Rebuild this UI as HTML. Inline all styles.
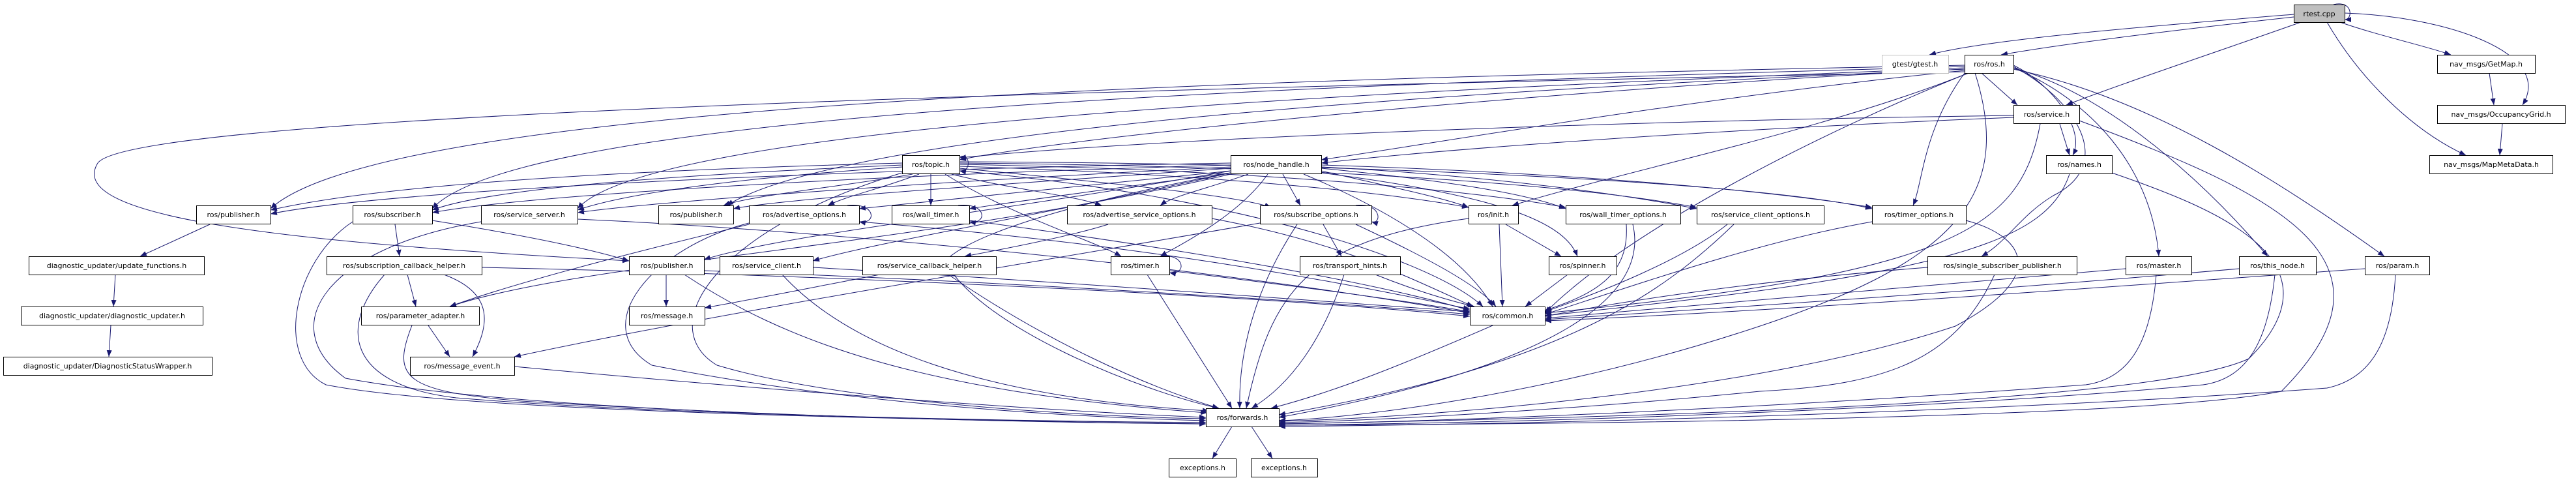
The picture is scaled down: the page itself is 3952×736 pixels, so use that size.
<!DOCTYPE html>
<html><head><meta charset="utf-8"><style>
html,body{margin:0;padding:0;background:#fff;}
svg{display:block;}
text{font-family:"DejaVu Sans","Liberation Sans",sans-serif;font-size:11px;fill:#000;}
</style></head><body>
<svg width="3952" height="736" viewBox="0 0 3952 736" xmlns="http://www.w3.org/2000/svg">
<defs><marker id="a" markerUnits="userSpaceOnUse" markerWidth="11" markerHeight="8" refX="10" refY="4" orient="auto"><path d="M0,0 L10,4 L0,8 z" fill="#191970"/></marker></defs>
<g fill="none" stroke="#191970" stroke-width="1" marker-end="url(#a)">
<path d="M3519 22 C3300 40 3050 60 2960 84"/>
<path d="M3519 26 C3300 50 3150 70 3070 84"/>
<path d="M3530 34 C3400 80 3250 130 3170 161"/>
<path d="M3590 34 C3650 55 3720 70 3760 84"/>
<path d="M3597 20 C3750 25 3920 80 3870 161"/>
<path d="M3570 34 C3620 120 3700 200 3783 238"/>
<path d="M3580 7 C3610 0 3610 30 3597 30"/>
<path d="M3819 112 L3826 161"/>
<path d="M3839 190 L3835 238"/>
<path d="M3040 112 L3095 161"/>
<path d="M3089 100 C3150 130 3200 200 3180 238"/>
<path d="M3089 102 C3180 150 3250 250 3150 300 C3100 330 3080 370 3040 393"/>
<path d="M3089 104 C3200 150 3300 250 3312 393"/>
<path d="M3089 104 C3250 150 3400 300 3479 393"/>
<path d="M3089 106 C3300 150 3500 280 3658 393"/>
<path d="M3030 112 C3090 300 3000 400 2700 500 C2400 600 2100 640 1962 645"/>
<path d="M3020 112 C2800 200 2500 350 2370 480"/>
<path d="M3020 112 C2800 200 2500 260 2320 315"/>
<path d="M3014 106 C2500 130 1700 200 1472 245"/>
<path d="M3014 108 C2600 150 2200 220 2027 245"/>
<path d="M3014 100 C2000 120 600 150 415 320"/>
<path d="M3014 102 C2000 130 800 170 663 320"/>
<path d="M3014 104 C2100 140 1000 190 886 320"/>
<path d="M3014 106 C2200 140 1300 200 1115 315"/>
<path d="M3014 110 C1500 140 200 180 150 250 C100 330 400 370 965 400"/>
<path d="M3014 112 C2950 200 2950 280 2935 315"/>
<path d="M3089 180 C2600 200 2200 230 2027 250"/>
<path d="M3089 177 C2500 185 1800 210 1472 242"/>
<path d="M3160 190 L3175 238"/>
<path d="M3130 190 C3100 350 3000 420 2370 480"/>
<path d="M3190 185 C3500 300 3700 400 3500 600 C3300 640 2500 650 1962 652"/>
<path d="M3175 267 C3140 370 3000 420 2370 484"/>
<path d="M3240 265 C3400 320 3600 400 3450 550 C3300 620 2500 640 1962 650"/>
<path d="M1472 240 C1490 235 1490 265 1472 262"/>
<path d="M1384 250 C1000 260 600 280 415 322"/>
<path d="M1384 253 C1000 270 750 290 663 322"/>
<path d="M1384 256 C1100 275 950 300 886 322"/>
<path d="M1400 267 C1300 285 1150 300 1110 315"/>
<path d="M1410 267 C1350 290 1300 300 1270 315"/>
<path d="M1428 267 L1428 315"/>
<path d="M1460 267 C1550 290 1650 300 1690 315"/>
<path d="M1472 258 C1700 280 1900 300 1950 318"/>
<path d="M1472 255 C1800 265 2100 290 2253 318"/>
<path d="M1472 252 C1900 260 2250 290 2402 318"/>
<path d="M1472 250 C2000 255 2400 280 2603 318"/>
<path d="M1472 248 C2100 250 2700 280 2872 320"/>
<path d="M1450 267 C1550 330 1680 370 1720 393"/>
<path d="M1472 262 C1900 300 2200 400 2275 470"/>
<path d="M1384 265 C1100 350 1000 500 1100 560 C1300 620 1700 640 1850 642"/>
<path d="M1888 250 C1300 260 600 290 415 328"/>
<path d="M1888 253 C1300 270 800 300 663 326"/>
<path d="M1888 256 C1400 280 1000 310 886 326"/>
<path d="M1888 258 C1500 285 1200 305 1125 320"/>
<path d="M1888 262 C1600 290 1400 310 1318 320"/>
<path d="M1888 265 C1700 290 1550 310 1487 320"/>
<path d="M1915 267 C1850 290 1800 300 1780 315"/>
<path d="M1968 267 L1995 315"/>
<path d="M2027 262 C2150 290 2220 305 2253 318"/>
<path d="M2027 258 C2250 280 2350 300 2402 320"/>
<path d="M2027 256 C2300 270 2500 300 2603 320"/>
<path d="M2027 253 C2400 265 2700 290 2872 318"/>
<path d="M1945 267 C1900 330 1820 370 1780 393"/>
<path d="M2027 265 C2300 300 2400 340 2420 393"/>
<path d="M2000 267 C2150 330 2250 400 2290 470"/>
<path d="M1888 265 C1700 300 1500 350 1450 400 C1500 500 1750 600 1870 626"/>
<path d="M1888 262 C1500 330 1200 360 1080 398"/>
<path d="M1888 265 C1600 330 1350 370 1247 400"/>
<path d="M1888 267 C1400 380 900 400 690 470"/>
<path d="M322 344 L215 393"/>
<path d="M177 421 L174 470"/>
<path d="M170 499 L167 547"/>
<path d="M606 344 L613 393"/>
<path d="M663 338 C800 360 900 380 965 400"/>
<path d="M541 340 C450 400 420 550 500 590 C700 630 1400 645 1850 648"/>
<path d="M738 340 C500 380 420 500 530 580 C800 630 1400 645 1850 650"/>
<path d="M886 336 C1200 350 1800 400 2255 480"/>
<path d="M625 421 L638 470"/>
<path d="M681 421 C760 450 750 500 725 547"/>
<path d="M590 421 C520 500 530 590 700 610 C1000 635 1500 645 1850 648"/>
<path d="M739 410 C1200 420 1900 450 2255 485"/>
<path d="M657 499 L690 547"/>
<path d="M632 499 C600 580 620 600 800 615 C1200 640 1600 648 1850 650"/>
<path d="M1022 421 L1022 470"/>
<path d="M1050 421 C1200 520 1400 600 1852 633"/>
<path d="M1080 415 C1500 430 2000 460 2255 482"/>
<path d="M1200 421 C1300 530 1500 610 1855 630"/>
<path d="M1247 410 C1600 430 2000 460 2255 478"/>
<path d="M1350 421 C1250 440 1150 460 1081 472"/>
<path d="M1455 421 C1600 520 1750 590 1870 626"/>
<path d="M789 562 C1200 600 1600 630 1850 640"/>
<path d="M2030 344 L2058 393"/>
<path d="M1990 344 C1920 450 1900 550 1902 626"/>
<path d="M2080 344 C2200 400 2270 440 2295 470"/>
<path d="M2080 315 C2120 310 2120 345 2104 340"/>
<path d="M1933 342 C1600 400 1100 480 789 547"/>
<path d="M1700 344 C1650 360 1550 380 1480 393"/>
<path d="M1859 335 C2050 370 2150 420 2260 470"/>
<path d="M1300 315 C1345 310 1345 345 1318 340"/>
<path d="M1318 340 C1700 370 2000 420 2255 474"/>
<path d="M1149 342 C1000 380 900 500 1000 560 C1300 620 1650 640 1850 645"/>
<path d="M1149 344 C1000 380 800 430 690 470"/>
<path d="M1487 338 C1800 380 2100 430 2255 476"/>
<path d="M1470 315 C1515 310 1515 345 1487 340"/>
<path d="M1760 421 L1890 626"/>
<path d="M1780 393 C1820 388 1820 423 1794 418"/>
<path d="M1794 415 C2000 440 2150 460 2255 478"/>
<path d="M2110 421 C2170 445 2220 460 2262 470"/>
<path d="M2062 421 C2030 520 1980 590 1920 626"/>
<path d="M2310 344 L2395 393"/>
<path d="M2300 344 L2305 470"/>
<path d="M2253 335 C2000 370 1950 450 1912 626"/>
<path d="M2405 421 L2340 470"/>
<path d="M2495 344 C2500 420 2450 450 2370 476"/>
<path d="M2505 344 C2530 450 2400 560 1962 640"/>
<path d="M2650 344 C2580 400 2450 450 2370 478"/>
<path d="M2660 344 C2550 450 2400 560 1962 636"/>
<path d="M2872 340 C2700 370 2500 440 2370 482"/>
<path d="M3016 338 C3100 360 3150 420 3000 500 C2700 600 2200 640 1962 646"/>
<path d="M2957 410 C2700 430 2500 460 2370 485"/>
<path d="M3060 421 C3000 550 2900 590 2700 600 C2400 630 2100 645 1962 648"/>
<path d="M3261 412 C2900 440 2600 470 2370 488"/>
<path d="M3308 421 C3300 520 3270 580 3200 590 C2800 620 2300 645 1962 650"/>
<path d="M3435 412 C3000 450 2600 475 2370 490"/>
<path d="M3490 421 C3480 520 3450 580 3380 590 C3000 625 2400 648 1962 652"/>
<path d="M3628 412 C3100 450 2700 478 2370 492"/>
<path d="M3675 421 C3670 520 3640 580 3570 595 C3100 630 2400 650 1962 654"/>
<path d="M2290 499 C2150 560 2050 600 1950 626"/>
<path d="M1890 654 L1860 703"/>
<path d="M1920 654 L1952 703"/>
</g>
<g fill="#fff" stroke="#000" stroke-width="1">
<rect x="3519.5" y="7.5" width="78" height="27" fill="#bfbfbf"/>
<rect x="2887.5" y="84.5" width="102" height="28" stroke="#bfbfbf"/>
<rect x="3014.5" y="84.5" width="75" height="28"/>
<rect x="3739.5" y="84.5" width="150" height="28"/>
<rect x="3089.5" y="161.5" width="101" height="28"/>
<rect x="3739.5" y="161.5" width="196" height="28"/>
<rect x="3139.5" y="238.5" width="101" height="28"/>
<rect x="3727.5" y="238.5" width="189" height="28"/>
<rect x="1384.5" y="238.5" width="88" height="28"/>
<rect x="1888.5" y="238.5" width="139" height="28"/>
<rect x="301.5" y="315.5" width="114" height="28"/>
<rect x="541.5" y="315.5" width="122" height="28"/>
<rect x="738.5" y="315.5" width="148" height="28"/>
<rect x="1010.5" y="315.5" width="115" height="28"/>
<rect x="1149.5" y="315.5" width="169" height="28"/>
<rect x="1368.5" y="315.5" width="119" height="28"/>
<rect x="1637.5" y="315.5" width="222" height="28"/>
<rect x="1933.5" y="315.5" width="171" height="28"/>
<rect x="2253.5" y="315.5" width="76" height="28"/>
<rect x="2402.5" y="315.5" width="176" height="28"/>
<rect x="2603.5" y="315.5" width="195" height="28"/>
<rect x="2872.5" y="315.5" width="144" height="28"/>
<rect x="44.5" y="393.5" width="269" height="28"/>
<rect x="501.5" y="393.5" width="238" height="28"/>
<rect x="965.5" y="393.5" width="115" height="28"/>
<rect x="1104.5" y="393.5" width="143" height="28"/>
<rect x="1323.5" y="393.5" width="205" height="28"/>
<rect x="1704.5" y="393.5" width="90" height="28"/>
<rect x="1994.5" y="393.5" width="154" height="28"/>
<rect x="2376.5" y="393.5" width="104" height="28"/>
<rect x="2957.5" y="393.5" width="229" height="28"/>
<rect x="3261.5" y="393.5" width="101" height="28"/>
<rect x="3435.5" y="393.5" width="118" height="28"/>
<rect x="3628.5" y="393.5" width="99" height="28"/>
<rect x="32.5" y="470.5" width="279" height="28"/>
<rect x="554.5" y="470.5" width="181" height="28"/>
<rect x="965.5" y="470.5" width="116" height="28"/>
<rect x="2255.5" y="470.5" width="115" height="28"/>
<rect x="5.5" y="547.5" width="320" height="28"/>
<rect x="629.5" y="547.5" width="160" height="28"/>
<rect x="1850.5" y="626.5" width="112" height="28"/>
<rect x="1793.5" y="703.5" width="103" height="28"/>
<rect x="1919.5" y="703.5" width="102" height="28"/>
</g>
<g text-anchor="middle">
<text x="3558" y="25">rtest.cpp</text>
<text x="2938" y="102">gtest/gtest.h</text>
<text x="3052" y="102">ros/ros.h</text>
<text x="3814" y="102">nav_msgs/GetMap.h</text>
<text x="3140" y="179">ros/service.h</text>
<text x="3837" y="179">nav_msgs/OccupancyGrid.h</text>
<text x="3190" y="256">ros/names.h</text>
<text x="3822" y="256">nav_msgs/MapMetaData.h</text>
<text x="1428" y="256">ros/topic.h</text>
<text x="1958" y="256">ros/node_handle.h</text>
<text x="358" y="333">ros/publisher.h</text>
<text x="602" y="333">ros/subscriber.h</text>
<text x="812" y="333">ros/service_server.h</text>
<text x="1068" y="333">ros/publisher.h</text>
<text x="1234" y="333">ros/advertise_options.h</text>
<text x="1428" y="333">ros/wall_timer.h</text>
<text x="1748" y="333">ros/advertise_service_options.h</text>
<text x="2019" y="333">ros/subscribe_options.h</text>
<text x="2291" y="333">ros/init.h</text>
<text x="2490" y="333">ros/wall_timer_options.h</text>
<text x="2701" y="333">ros/service_client_options.h</text>
<text x="2944" y="333">ros/timer_options.h</text>
<text x="179" y="411">diagnostic_updater/update_functions.h</text>
<text x="620" y="411">ros/subscription_callback_helper.h</text>
<text x="1023" y="411">ros/publisher.h</text>
<text x="1176" y="411">ros/service_client.h</text>
<text x="1426" y="411">ros/service_callback_helper.h</text>
<text x="1749" y="411">ros/timer.h</text>
<text x="2071" y="411">ros/transport_hints.h</text>
<text x="2428" y="411">ros/spinner.h</text>
<text x="3072" y="411">ros/single_subscriber_publisher.h</text>
<text x="3312" y="411">ros/master.h</text>
<text x="3494" y="411">ros/this_node.h</text>
<text x="3678" y="411">ros/param.h</text>
<text x="172" y="488">diagnostic_updater/diagnostic_updater.h</text>
<text x="645" y="488">ros/parameter_adapter.h</text>
<text x="1023" y="488">ros/message.h</text>
<text x="2313" y="488">ros/common.h</text>
<text x="165" y="565">diagnostic_updater/DiagnosticStatusWrapper.h</text>
<text x="709" y="565">ros/message_event.h</text>
<text x="1906" y="644">ros/forwards.h</text>
<text x="1845" y="721">exceptions.h</text>
<text x="1970" y="721">exceptions.h</text>
</g>
</svg>
</body></html>
